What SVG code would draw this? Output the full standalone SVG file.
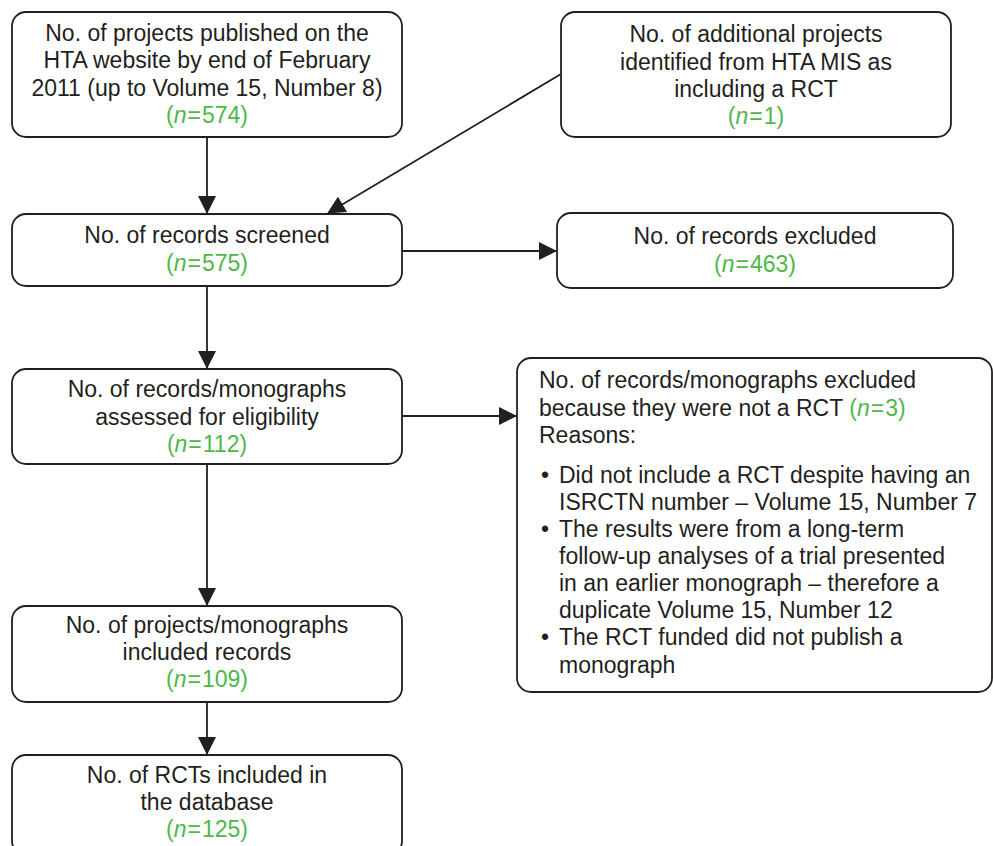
<svg xmlns="http://www.w3.org/2000/svg" width="993" height="846" viewBox="0 0 993 846">
<style>
.box{fill:#fff;stroke:#231f20;stroke-width:1.8}
.t{font-family:"Liberation Sans",Arial,sans-serif;font-size:23px;fill:#231f20}
.c{text-anchor:middle}
.g{fill:#4db848}
.i{font-style:italic}
.ln{stroke:#231f20;stroke-width:1.8;fill:none;marker-end:url(#ah)}
</style>
<defs>
<marker id="ah" markerUnits="userSpaceOnUse" markerWidth="18" markerHeight="18" refX="17" refY="9" orient="auto">
<path d="M0,0 L18,9 L0,18 Z" fill="#231f20"/>
</marker>
</defs>
<rect width="993" height="846" fill="#fff"/>
<g id="connectors">
<line class="ln" x1="207" y1="137" x2="207" y2="213"/>
<line class="ln" x1="561" y1="74" x2="328" y2="213"/>
<line class="ln" x1="402" y1="251" x2="556" y2="251"/>
<line class="ln" x1="207" y1="286" x2="207" y2="368"/>
<line class="ln" x1="402" y1="416" x2="516" y2="416"/>
<line class="ln" x1="207" y1="464" x2="207" y2="605"/>
<line class="ln" x1="207" y1="702" x2="207" y2="754"/>
</g>
<g id="published">
<rect class="box" x="12" y="12" width="390" height="125" rx="14"/>
<text class="t c"><tspan x="207" y="41">No. of projects published on the</tspan><tspan x="207" y="68">HTA website by end of February</tspan><tspan x="207" y="96">2011 (up to Volume 15, Number 8)</tspan><tspan class="g" x="207" y="123">(<tspan class="i">n</tspan><tspan dx="1">=</tspan><tspan dx="1">574)</tspan></tspan></text>
</g>
<g id="additional">
<rect class="box" x="561" y="12" width="390" height="125" rx="14"/>
<text class="t c"><tspan x="756" y="42">No. of additional projects</tspan><tspan x="756" y="70">identified from HTA MIS as</tspan><tspan x="756" y="97">including a RCT</tspan><tspan class="g" x="756" y="124">(<tspan class="i">n</tspan><tspan dx="1">=</tspan><tspan dx="1">1)</tspan></tspan></text>
</g>
<g id="screened">
<rect class="box" x="12" y="214" width="390" height="72" rx="14"/>
<text class="t c"><tspan x="207" y="243">No. of records screened</tspan><tspan class="g" x="207" y="271">(<tspan class="i">n</tspan><tspan dx="1">=</tspan><tspan dx="1">575)</tspan></tspan></text>
</g>
<g id="excluded">
<rect class="box" x="557" y="213" width="396" height="75" rx="14"/>
<text class="t c"><tspan x="755" y="244">No. of records excluded</tspan><tspan class="g" x="755" y="272">(<tspan class="i">n</tspan><tspan dx="1">=</tspan><tspan dx="1">463)</tspan></tspan></text>
</g>
<g id="assessed">
<rect class="box" x="12" y="369" width="390" height="95" rx="14"/>
<text class="t c"><tspan x="207" y="397">No. of records/monographs</tspan><tspan x="207" y="425">assessed for eligibility</tspan><tspan class="g" x="207" y="452">(<tspan class="i">n</tspan><tspan dx="1">=</tspan><tspan dx="1">112)</tspan></tspan></text>
</g>
<g id="notrct">
<rect class="box" x="517" y="358" width="475" height="334" rx="14"/>
<text class="t"><tspan x="539" y="388">No. of records/monographs excluded</tspan><tspan x="539" y="416">because they were not a RCT <tspan class="g">(<tspan class="i">n</tspan><tspan dx="1">=</tspan><tspan dx="1">3)</tspan></tspan></tspan><tspan x="539" y="443">Reasons:</tspan><tspan x="541" y="483">•</tspan><tspan x="559" y="483">Did not include a RCT despite having an</tspan><tspan x="559" y="510">ISRCTN number – Volume 15, Number 7</tspan><tspan x="541" y="537">•</tspan><tspan x="559" y="537">The results were from a long-term</tspan><tspan x="559" y="564">follow-up analyses of a trial presented</tspan><tspan x="559" y="591">in an earlier monograph – therefore a</tspan><tspan x="559" y="618">duplicate Volume 15, Number 12</tspan><tspan x="541" y="645">•</tspan><tspan x="559" y="645">The RCT funded did not publish a</tspan><tspan x="559" y="673">monograph</tspan></text>
</g>
<g id="included">
<rect class="box" x="12" y="606" width="390" height="96" rx="14"/>
<text class="t c"><tspan x="207" y="633">No. of projects/monographs</tspan><tspan x="207" y="660">included records</tspan><tspan class="g" x="207" y="687">(<tspan class="i">n</tspan><tspan dx="1">=</tspan><tspan dx="1">109)</tspan></tspan></text>
</g>
<g id="rcts">
<rect class="box" x="12" y="755" width="390" height="100" rx="14"/>
<text class="t c"><tspan x="207" y="783">No. of RCTs included in</tspan><tspan x="207" y="810">the database</tspan><tspan class="g" x="207" y="837">(<tspan class="i">n</tspan><tspan dx="1">=</tspan><tspan dx="1">125)</tspan></tspan></text>
</g>
</svg>
